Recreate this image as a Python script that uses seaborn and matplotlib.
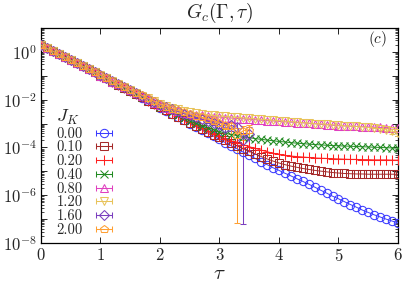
import numpy as np
import pandas as pd
import matplotlib
matplotlib.use("Agg")
import matplotlib.pyplot as plt
import seaborn as sns
from matplotlib.legend_handler import HandlerErrorbar
from matplotlib.ticker import LogLocator, FuncFormatter, FixedLocator, NullFormatter

# ---------------- data (log10 of G_c) ----------------
tau = [round(0.1 * i, 1) for i in range(61)]

jk_labels = ["0.00", "0.10", "0.20", "0.40", "0.80", "1.20", "1.60", "2.00"]

g_000 = [0.28, 0.15, 0.03, -0.10, -0.23, -0.35, -0.48, -0.61, -0.73, -0.86,
         -0.99, -1.11, -1.24, -1.37, -1.50, -1.63, -1.77, -1.91, -2.05, -2.19,
         -2.33, -2.46, -2.60, -2.73, -2.86, -3.00, -3.13, -3.26, -3.40, -3.53,
         -3.66, -3.80, -3.93, -4.06, -4.20, -4.33, -4.46, -4.59, -4.72, -4.85,
         -4.96, -5.08, -5.19, -5.31, -5.42, -5.54, -5.66, -5.79, -5.91, -6.04,
         -6.15, -6.27, -6.39, -6.50, -6.62, -6.72, -6.82, -6.91, -7.00, -7.08, -7.16]
g_010 = [0.28, 0.15, 0.03, -0.10, -0.23, -0.35, -0.48, -0.61, -0.73, -0.86,
         -0.99, -1.11, -1.24, -1.37, -1.50, -1.63, -1.76, -1.90, -2.04, -2.18,
         -2.32, -2.45, -2.58, -2.71, -2.84, -2.97, -3.10, -3.22, -3.35, -3.47,
         -3.58, -3.70, -3.82, -3.94, -4.05, -4.16, -4.27, -4.38, -4.48, -4.57,
         -4.65, -4.72, -4.78, -4.83, -4.88, -4.92, -4.96, -4.99, -5.02, -5.05,
         -5.07, -5.09, -5.10, -5.11, -5.11, -5.12, -5.12, -5.12, -5.12, -5.12, -5.12]
g_020 = [0.28, 0.15, 0.03, -0.10, -0.23, -0.35, -0.48, -0.61, -0.73, -0.86,
         -0.99, -1.11, -1.24, -1.37, -1.50, -1.63, -1.76, -1.90, -2.04, -2.17,
         -2.31, -2.44, -2.57, -2.70, -2.82, -2.94, -3.06, -3.18, -3.30, -3.42,
         -3.53, -3.63, -3.72, -3.81, -3.89, -3.97, -4.04, -4.11, -4.18, -4.24,
         -4.29, -4.33, -4.36, -4.38, -4.40, -4.42, -4.44, -4.45, -4.46, -4.47,
         -4.48, -4.49, -4.50, -4.50, -4.51, -4.51, -4.52, -4.52, -4.52, -4.53, -4.53]
g_040 = [0.28, 0.15, 0.03, -0.10, -0.23, -0.35, -0.48, -0.61, -0.73, -0.86,
         -0.99, -1.11, -1.24, -1.37, -1.50, -1.62, -1.75, -1.88, -2.02, -2.16,
         -2.29, -2.41, -2.53, -2.65, -2.77, -2.88, -2.99, -3.09, -3.18, -3.26,
         -3.34, -3.40, -3.46, -3.51, -3.55, -3.59, -3.63, -3.66, -3.69, -3.72,
         -3.75, -3.77, -3.80, -3.82, -3.84, -3.86, -3.88, -3.89, -3.91, -3.92,
         -3.93, -3.94, -3.95, -3.96, -3.97, -3.98, -3.99, -4.00, -4.01, -4.02, -4.03]
g_080 = [0.28, 0.15, 0.03, -0.10, -0.23, -0.35, -0.48, -0.61, -0.73, -0.86,
         -0.99, -1.11, -1.24, -1.36, -1.49, -1.61, -1.73, -1.86, -1.99, -2.12,
         -2.24, -2.33, -2.41, -2.48, -2.54, -2.59, -2.63, -2.66, -2.69, -2.71,
         -2.73, -2.75, -2.77, -2.79, -2.80, -2.82, -2.84, -2.86, -2.88, -2.89,
         -2.91, -2.93, -2.94, -2.96, -2.97, -2.99, -3.01, -3.03, -3.05, -3.07,
         -3.09, -3.10, -3.11, -3.12, -3.13, -3.14, -3.15, -3.16, -3.17, -3.18, -3.19]
g_120 = [0.28, 0.15, 0.03, -0.10, -0.23, -0.35, -0.48, -0.60, -0.72, -0.85,
         -0.97, -1.10, -1.22, -1.35, -1.47, -1.59, -1.71, -1.83, -1.95, -2.07,
         -2.18, -2.26, -2.34, -2.41, -2.47, -2.52, -2.56, -2.60, -2.63, -2.66,
         -2.68, -2.70, -2.72, -2.74, -2.76, -2.78, -2.80, -2.82, -2.84, -2.86,
         -2.88, -2.90, -2.92, -2.94, -2.96, -2.98, -3.00, -3.01, -3.03, -3.05,
         -3.07, -3.09, -3.11, -3.12, -3.14, -3.16, -3.18, -3.21, -3.26, -3.32, -3.40]
g_160 = [0.28, 0.15, 0.03, -0.10, -0.23, -0.35, -0.48, -0.60, -0.73, -0.85,
         -0.98, -1.10, -1.23, -1.35, -1.48, -1.60, -1.73, -1.85, -1.97, -2.10,
         -2.22, -2.31, -2.40, -2.49, -2.58, -2.66, -2.74, -2.82, -2.90, -2.97,
         -3.05, -3.20, -3.08, -3.15, -3.68, -3.42]
g_200 = [0.28, 0.15, 0.03, -0.10, -0.23, -0.35, -0.48, -0.60, -0.72, -0.85,
         -0.97, -1.09, -1.22, -1.34, -1.46, -1.58, -1.70, -1.82, -1.94, -2.07,
         -2.20, -2.29, -2.37, -2.45, -2.53, -2.60, -2.67, -2.74, -2.82, -2.88,
         -2.98, -3.05, -3.12, -3.47, -3.30, -3.25]

# relative error bars (fraction of G)
err_120 = [0.0] * 56 + [0.05, 0.10, 0.15, 0.20, 0.25]
err_160 = [0.0] * 25 + [0.05, 0.08, 0.10, 0.15, 0.20, 0.30, 0.60, 0.40, 0.50, 0.9997, 0.80]
err_200 = [0.0] * 26 + [0.05, 0.08, 0.12, 0.18, 0.25, 0.35, 0.50, 0.9998, 0.60, 0.50]

series_log = [g_000, g_010, g_020, g_040, g_080, g_120, g_160, g_200]
series_err = [None, None, None, None, None, err_120, err_160, err_200]

colors = ["#3b3bff", "#a52a2a", "#ff2020", "#208a20", "#e040c0", "#e8c35a", "#7b3fbf", "#ffa033"]
markers = ["o", "s", "+", "x", "^", "v", "D", "p"]
msizes = [6.0, 5.5, 7.0, 6.0, 6.0, 6.0, 4.8, 6.2]

# ---------------- style ----------------
sns.set_style("ticks")
plt.rcParams["font.family"] = ["cmr10", "DejaVu Serif"]
plt.rcParams["mathtext.fontset"] = "cm"
plt.rcParams["axes.formatter.use_mathtext"] = True
plt.rcParams["axes.unicode_minus"] = False

fig = plt.figure(figsize=(4.09, 2.86), dpi=100)
ax = fig.add_axes([0.1002, 0.1503, 0.8729, 0.7518])
ax.set_yscale("log")

legend_handles = []
for lab, glog, rerr, col, mk, ms in zip(jk_labels, series_log, series_err,
                                       colors, markers, msizes):
    t = np.array(tau[:len(glog)])
    g = 10.0 ** np.array(glog)
    df = pd.DataFrame({"tau": t, "G": g})
    sns.lineplot(data=df, x="tau", y="G", ax=ax, color=col, marker=mk,
                 markersize=ms, fillstyle="none", markeredgecolor=col,
                 markeredgewidth=0.75, linewidth=0.7, errorbar=None,
                 legend=False, zorder=3)
    if rerr is not None:
        e = np.array(rerr) * g
        m = e > 0
        ax.errorbar(t[m], g[m], yerr=e[m], fmt="none", ecolor=col,
                    elinewidth=0.75, capsize=2.0, capthick=0.75, zorder=2)
    h = ax.errorbar([np.nan], [np.nan], xerr=[1.0], fmt="-", marker=mk,
                    color=col, ms=ms, mfc="none", mec=col, mew=0.75, lw=0.7,
                    elinewidth=0.75, capsize=2.0, capthick=0.75, label=lab)
    legend_handles.append(h)

ax.set_xlim(0, 6)
ax.set_ylim(1e-8, 1e1)

ax.xaxis.set_major_locator(FixedLocator([0, 1, 2, 3, 4, 5, 6]))
ax.xaxis.set_major_formatter(FuncFormatter(lambda v, p: f"${int(round(v))}$"))
ax.yaxis.set_major_locator(LogLocator(base=10, numticks=20))
ax.yaxis.set_minor_locator(LogLocator(base=10, subs=np.arange(2, 10), numticks=20))
ax.yaxis.set_minor_formatter(NullFormatter())


def yfmt(v, p):
    ex = int(round(np.log10(v)))
    return f"$10^{{{ex}}}$" if ex % 2 == 0 and ex <= 0 else ""


ax.yaxis.set_major_formatter(FuncFormatter(yfmt))
ax.tick_params(which="both", direction="in", top=True, right=True,
               labelsize=12, color="black")
ax.tick_params(which="major", length=4, width=0.6, pad=3)
ax.tick_params(which="minor", length=2, width=0.5)
ax.tick_params(axis="x", which="minor", bottom=False, top=False)
for s in ax.spines.values():
    s.set_linewidth(0.9)
    s.set_color("black")

ax.set_xlabel("")
ax.set_ylabel("")
fig.text(0.537, 0.955, r"$G_c(\Gamma,\tau)$", ha="center", va="center", fontsize=14)
fig.text(0.537, 0.042, r"$\tau$", ha="center", va="center", fontsize=15)
ax.text(0.944, 0.95, r"$(c)$", transform=ax.transAxes, ha="center", va="center",
        fontsize=11)

leg = ax.legend(handles=legend_handles, labels=jk_labels, title=r"$J_K$",
                loc="upper left", bbox_to_anchor=(0.12, 0.648),
                bbox_transform=fig.transFigure, frameon=False,
                markerfirst=False, fontsize=10.5, title_fontsize=13,
                handlelength=1.1, handletextpad=0.9, labelspacing=0.0,
                borderpad=0.0, alignment="left",
                handler_map={type(legend_handles[0]): HandlerErrorbar(xerr_size=0.55)})

fig.savefig("out.png", dpi=100)
